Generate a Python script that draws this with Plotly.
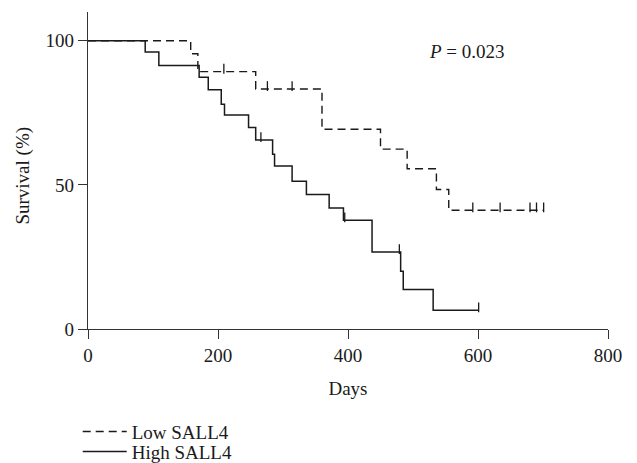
import plotly.graph_objects as go

# Kaplan-Meier step data (days, survival %)
low_days = [0, 158, 169, 258, 360, 450, 491, 536, 555, 700]
low_surv = [100, 95.5, 89.3, 83.3, 69.3, 62.4, 55.6, 48.4, 41.2, 41.2]
low_cens_days = [209, 276, 314, 592, 634, 680, 690, 701]
low_cens_surv = [89.3, 83.3, 83.3, 41.2, 41.2, 41.2, 41.2, 41.2]

high_days = [0, 88, 109, 171, 185, 205, 210, 247, 258, 284, 287, 314, 336,
             371, 393, 437, 481, 485, 531, 601]
high_surv = [100, 96.1, 91.4, 87.4, 83.0, 78.0, 74.3, 69.9, 65.6, 60.6, 56.6,
             51.3, 46.7, 42.0, 37.7, 26.7, 20.0, 13.7, 6.5, 6.5]
high_cens_days = [266, 395, 479, 601]
high_cens_surv = [65.6, 37.7, 26.7, 6.5]

x_ticks = [0, 200, 400, 600, 800]
y_ticks = [0, 50, 100]

FONT = "Liberation Serif"
INK = "#1a1a1a"
TICK_UP = 1.0  # censor ticks sit on top of the curve

fig = go.Figure()
fig.add_trace(go.Scatter(
    x=low_days, y=low_surv, mode="lines", line_shape="hv",
    line=dict(color=INK, width=1.4, dash="8px,5px"), name="Low SALL4",
    legend="legend"))
fig.add_trace(go.Scatter(
    x=high_days, y=high_surv, mode="lines", line_shape="hv",
    line=dict(color=INK, width=1.5), name="High SALL4", legend="legend2"))
fig.add_trace(go.Scatter(
    x=low_cens_days, y=[v + TICK_UP for v in low_cens_surv], mode="markers",
    marker=dict(symbol="line-ns", size=7, line=dict(color=INK, width=1.3)),
    showlegend=False, hoverinfo="skip"))
fig.add_trace(go.Scatter(
    x=high_cens_days, y=[v + TICK_UP for v in high_cens_surv], mode="markers",
    marker=dict(symbol="line-ns", size=7, line=dict(color=INK, width=1.3)),
    showlegend=False, hoverinfo="skip"))

fig.add_annotation(x=583, y=96.2, xref="x", yref="y", showarrow=False,
                   xanchor="center", yanchor="middle",
                   text="<i>P</i> = 0.023", font=dict(family=FONT, size=19, color=INK))
fig.add_annotation(x=-0.125, y=0.484, xref="paper", yref="paper", showarrow=False,
                   xanchor="center", yanchor="middle",
                   textangle=-90, text="Survival (%)",
                   font=dict(family=FONT, size=19, color=INK))

axis_common = dict(showline=True, linecolor="#333", linewidth=1.3, ticks="outside",
                   ticklen=9, tickwidth=1.3, tickcolor="#333", showgrid=False,
                   zeroline=False,
                   tickfont=dict(family=FONT, size=19, color=INK))

fig.update_xaxes(range=[0, 800], tickvals=x_ticks, ticktext=[str(t) for t in x_ticks],
                 title=dict(text="Days", font=dict(family=FONT, size=19, color=INK), standoff=16),
                 **axis_common)
fig.update_yaxes(range=[0, 110], tickvals=y_ticks, ticktext=[str(t) for t in y_ticks],
                 ticksuffix="\u2004", **axis_common)

legend_common = dict(xref="container", yref="container", xanchor="left", yanchor="middle",
                     font=dict(family=FONT, size=19, color=INK), itemwidth=44,
                     bgcolor="rgba(0,0,0,0)")

fig.update_layout(
    width=637, height=463,
    margin=dict(l=88, r=29, t=12, b=134, autoexpand=False),
    plot_bgcolor="white", paper_bgcolor="white",
    font=dict(family=FONT, size=19, color=INK),
    legend=dict(x=0.122, y=0.0676, **legend_common),
    legend2=dict(x=0.122, y=0.0244, **legend_common),
)

fig.write_html("out.html", config={"displayModeBar": False},
               post_script="document.body.style.margin='0';")
